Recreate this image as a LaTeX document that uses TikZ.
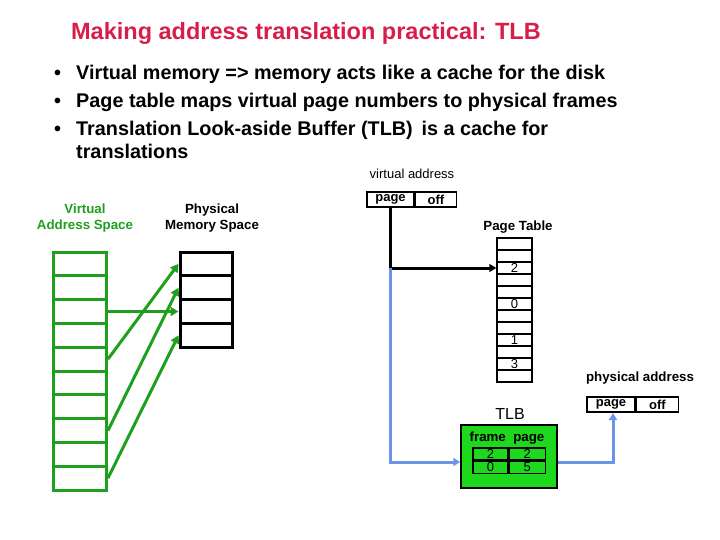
\documentclass[tikz,border=0pt]{standalone}
\usepackage{fontspec}
\setmainfont{Liberation Sans}
\usetikzlibrary{arrows.meta}
\definecolor{ttl}{HTML}{D81E48}
\definecolor{gr}{HTML}{1EA01E}
\definecolor{tlbg}{HTML}{1ED81E}
\definecolor{bl}{HTML}{6C94E8}
\begin{document}
\begin{tikzpicture}[x=1pt,y=-1pt,
  lbl/.style={font=\bfseries\fontsize{13.3}{16}\selectfont, align=center, inner sep=0},
  bul/.style={font=\bfseries\fontsize{19.8}{22}\selectfont, anchor=base west, inner sep=0},
  garrow/.style={draw=gr, line width=3pt, -{Triangle[length=8pt,width=9pt]}},
  boxt/.style={font=\bfseries\fontsize{13}{13}\selectfont, inner sep=0},
  numt/.style={font=\fontsize{13}{13}\selectfont, inner sep=0}]
\useasboundingbox (0,0) rectangle (720,540);
\node[font=\bfseries\fontsize{23.5}{26}\selectfont, text=ttl, inner sep=0] (title) at (306,33) {Making address translation practical: TLB};
\node[bul] (b1d) at (54,80) {•}; \node[bul] (b1) at (76,80) {Virtual memory => memory acts like a cache for the disk};
\node[bul] (b2d) at (54,108) {•}; \node[bul] (b2) at (76,108) {Page table maps virtual page numbers to physical frames};
\node[bul] (b3d) at (54,136) {•}; \node[bul] (b3) at (76,136) {Translation Look-aside Buffer (TLB)\, is a cache for};
\node[bul] (b4) at (76,159) {translations};
% labels
\node[lbl, text=gr] (vas) at (85,218) {Virtual\\Address Space};
\node[lbl] (pms) at (212,218) {Physical\\Memory Space};
\node[lbl, font=\fontsize{13}{16}\selectfont] (va) at (412,174) {virtual address};
\node[lbl] (ptl) at (518,227) {Page Table};
\node[lbl] (pa) at (640,378) {physical address};
% virtual column
\foreach \i in {0,...,9} {
  \node[draw=gr, line width=3pt, minimum width=53pt, minimum height=23.8pt, inner sep=0] (v\i) at (80,{263.9+23.8*\i}) {};
}
\foreach \i in {0,...,3} {
  \node[draw, line width=3pt, minimum width=52pt, minimum height=23.8pt, inner sep=0] (p\i) at (206,{263.9+23.8*\i}) {};
}
\draw[garrow] (v2.east) -- (p2.west);
\draw[garrow] (v4.east) -- (p0.west);
\draw[garrow] (v7.east) -- (p1.west);
\draw[garrow] (v9.east) -- (p3.west);
% virtual address box
\node[draw, line width=1.5pt, minimum width=47pt, minimum height=15pt, boxt] (vpage) at (390.5,199.5) {page};
\node[draw, line width=1.5pt, minimum width=41pt, minimum height=15pt, boxt, anchor=west] (voff) at (vpage.east) {off};
% page table
\foreach \i/\t in {0/,1/,2/2,3/,4/,5/0,6/,7/,8/1,9/,10/3,11/} {
  \node[draw, line width=1.5pt, minimum width=35pt, minimum height=12pt, numt] (pt\i) at (514.5,{244+12*\i}) {\t};
}
\coordinate (split) at (vpage.south |- pt2.west);
\draw[line width=3pt] (vpage.south) -- (split);
\draw[line width=3pt, -{Triangle[length=7pt,width=8pt]}] (split) -- (pt2.west);
% TLB
\node[inner sep=0, font=\fontsize{16}{18}\selectfont] (tlbl) at (510,414) {TLB};
\node[draw, fill=tlbg, line width=1.5pt, minimum width=96pt, minimum height=63pt, inner sep=0] (tlb) at (509,456.5) {};
\node[lbl] (fp) at (507,438) {frame\ \ page};
\node[draw, line width=1.2pt, minimum width=35pt, minimum height=12pt, numt] (t00) at (490.5,454) {2};
\node[draw, line width=1.2pt, minimum width=36pt, minimum height=12pt, numt, anchor=west] (t01) at (t00.east) {2};
\node[draw, line width=1.2pt, minimum width=35pt, minimum height=12pt, numt, anchor=north] (t10) at (t00.south) {0};
\node[draw, line width=1.2pt, minimum width=36pt, minimum height=12pt, numt, anchor=west] (t11) at (t10.east) {5};
% physical address box
\node[draw, line width=1.5pt, minimum width=48pt, minimum height=15pt, boxt] (ppage) at (611,404.5) {page};
\node[draw, line width=1.5pt, minimum width=42pt, minimum height=15pt, boxt, anchor=west] (poff) at (ppage.east) {off};
% blue paths
\coordinate (bturn) at (split |- 0,462);
\draw[draw=bl, line width=3pt, -{Triangle[length=7pt,width=8pt]}] (split) -- (bturn) -- (tlb.west |- 0,462);
\coordinate (bturn2) at (613,462);
\draw[draw=bl, line width=3pt, -{Triangle[length=7pt,width=8pt]}] (tlb.east |- 0,462) -- (bturn2) -- (613,413);
\end{tikzpicture}
\end{document}
